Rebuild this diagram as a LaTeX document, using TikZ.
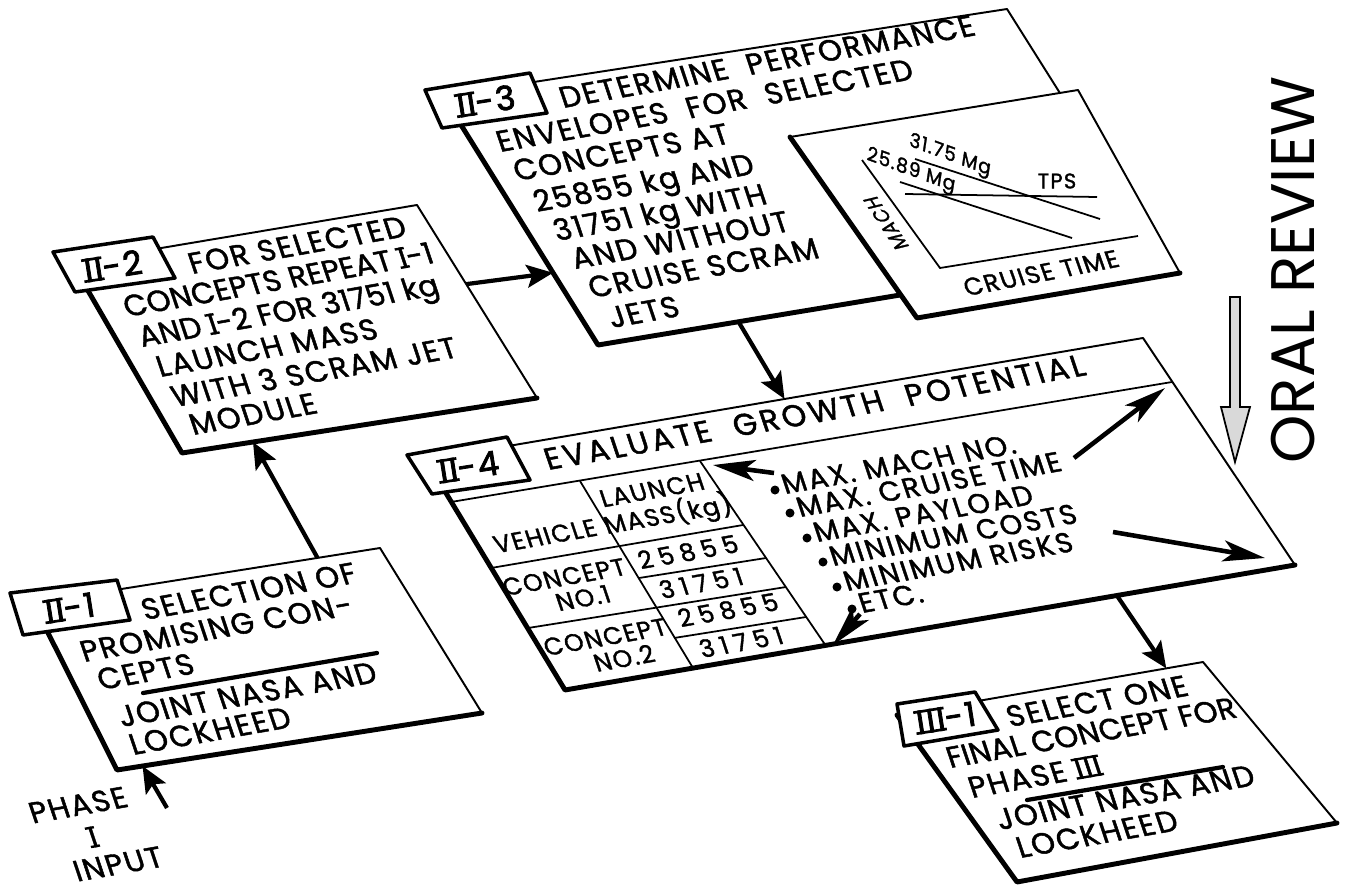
\documentclass[tikz,border=0pt]{standalone}
\usepackage{fontspec}
\usepackage{tikz}
\usetikzlibrary{arrows.meta, calc}
\newfontfamily\lettering[LetterSpace=6, FakeBold=1.5]{Poppins}
\newfontfamily\reviewfont{Poppins}
\newcommand{\romnum}[1]{\setbox0=\hbox{#1}%
  \rlap{\kern-0.05em\rule[-0.01em]{\dimexpr\wd0+0.06em\relax}{0.08em}}%
  \rlap{\kern-0.05em\rule[\dimexpr\ht0-0.07em\relax]{\dimexpr\wd0+0.06em\relax}{0.08em}}%
  \box0}
\newcommand{\wide}{\addfontfeature{LetterSpace=25}}
\newcommand{\snug}{\addfontfeature{LetterSpace=1}}

\begin{document}
\begin{tikzpicture}[
        x=0.2mm, y=-0.2mm,
        >={Stealth[length=15pt, width=13pt, inset=3pt]},
        box/.style={fill=white, draw, line width=1.1pt, line join=round},
        heavy/.style={line width=2.8pt, line cap=round, line join=round},
        tagbox/.style={fill=white, draw, line width=2pt, line join=round},
        flow/.style={->, line width=2.4pt},
        pointer/.style={-{Stealth[length=24pt, width=12pt, inset=6pt]}, line width=2.6pt},
        divider/.style={line width=2.4pt, line cap=round},
        rule/.style={line width=1pt},
        txt/.style={font=\lettering\fontsize{17}{19}\selectfont, anchor=base west, inner sep=0pt, rotate=10, xslant=-0.15},
        tag/.style={font=\lettering\addfontfeature{FakeBold=2.5}\fontsize{19}{20}\selectfont, inner sep=0pt, rotate=9},
        cell/.style={font=\lettering\fontsize{14}{15}\selectfont, inner sep=0pt, rotate=10, xslant=-0.15},
        item/.style={font=\lettering\addfontfeature{LetterSpace=8}\fontsize{16}{17}\selectfont, anchor=base west, inner sep=0pt, rotate=10, xslant=-0.15},
        plot/.style={font=\lettering\fontsize{11}{12}\selectfont, inner sep=0pt}
    ]
        \useasboundingbox (0,0) rectangle (1348,890);

        % II-1
        \coordinate (sel-nw) at (33,603);
        \coordinate (sel-ne) at (380,548);
        \coordinate (sel-se) at (482,713);
        \coordinate (sel-sw) at (117,770);
        \draw[box] (sel-nw) -- (sel-ne) -- (sel-se) -- (sel-sw) -- cycle;
        \draw[heavy] (sel-nw) -- (sel-sw) -- (sel-se);
        \draw[tagbox] (10,593) -- (117,580) -- (130,620) -- (23,635) -- cycle;
        \node[tag] (sel-tag) at (70,608) {\romnum{II}-1};
        \node[txt] (sel-l1) at (145,620) {SELECTION OF};
        \node[txt] (sel-l2) at (84,662)  {PROMISING CON-};
        \node[txt] (sel-l3) at (101,690) {CEPTS};
        \draw[divider] (143,693) -- (377,653);
        \node[txt] (sel-l4) at (122,727) {JOINT NASA AND};
        \node[txt] (sel-l5) at (133,755) {LOCKHEED};

        % II-2
        \coordinate (rep-nw) at (72,263);
        \coordinate (rep-ne) at (417,205);
        \coordinate (rep-se) at (537,398);
        \coordinate (rep-sw) at (182,453);
        \draw[box] (rep-nw) -- (rep-ne) -- (rep-se) -- (rep-sw) -- cycle;
        \draw[heavy] (rep-nw) -- (rep-sw) -- (rep-se);
        \draw[tagbox] (53,252) -- (153,237) -- (175,278) -- (75,292) -- cycle;
        \node[tag] (rep-tag) at (113,266) {\romnum{II}-2};
        \node[txt] (rep-l1) at (192,274) {FOR SELECTED};
        \node[txt] (rep-l2) at (127,317) {\snug CONCEPTS REPEAT \romnum{I}-1};
        \node[txt] (rep-l3) at (142,347) {\snug AND \romnum{I}-2 FOR 31751 kg};
        \node[txt] (rep-l4) at (160,377) {LAUNCH MASS};
        \node[txt] (rep-l5) at (175,407) {WITH 3 SCRAM JET};
        \node[txt] (rep-l6) at (193,435) {MODULE};

        % II-3
        \coordinate (env-nw) at (443,96);
        \coordinate (env-ne) at (1007,9);
        \coordinate (env-se) at (1160,252);
        \coordinate (env-sw) at (598,345);
        \draw[box] (env-nw) -- (env-ne) -- (env-se) -- (env-sw) -- cycle;
        \draw[heavy] (env-nw) -- (env-sw) -- (env-se);
        \draw[tagbox] (425,90) -- (530,73) -- (547,113) -- (442,128) -- cycle;
        \node[tag] (env-tag) at (486,101) {\romnum{II}-3};
        \node[txt] (env-l1) at (563,108) {DETERMINE\ \ PERFORMANCE};
        \node[txt] (env-l2) at (500,152) {ENVELOPES\ \ FOR\ \ SELECTED};
        \node[txt] (env-l3) at (517,181) {CONCEPTS AT};
        \node[txt] (env-l4) at (537,212) {25855 kg AND};
        \node[txt] (env-l5) at (557,241) {31751 kg WITH};
        \node[txt] (env-l6) at (575,269) {AND WITHOUT};
        \node[txt] (env-l7) at (592,298) {CRUISE SCRAM};
        \node[txt] (env-l8) at (612,328) {JETS};

        % performance plot
        \coordinate (plt-nw) at (790,137);
        \coordinate (plt-ne) at (1078,90);
        \coordinate (plt-se) at (1180,273);
        \coordinate (plt-sw) at (917,318);
        \draw[box] (plt-nw) -- (plt-ne) -- (plt-se) -- (plt-sw) -- cycle;
        \draw[heavy] (plt-nw) -- (plt-sw) -- (plt-se);
        \coordinate (ax-top) at (862,160);
        \coordinate (ax-org) at (940,268);
        \coordinate (ax-end) at (1138,236);
        \draw[rule] (ax-top) -- (ax-org) -- (ax-end);
        \draw[rule] (915,159) -- (1100,219);
        \draw[rule] (900,182) -- (1072,238);
        \draw[rule] (905,194) -- (1097,197);
        \node[plot, rotate=-20, xslant=-0.2] (m-high) at (950,156) {31.75 Mg};
        \node[plot, rotate=-20, xslant=-0.2] (m-low) at (911,171) {25.89 Mg};
        \node[plot, font=\lettering\fontsize{12}{13}\selectfont] (tps) at (1057,181) {TPS};
        \node[plot, rotate=123, xslant=0.35] (mach) at (886,223) {MACH};
        \node[plot, font=\lettering\fontsize{14}{15}\selectfont, rotate=11, xslant=-0.15] (cruise) at (1041,273) {CRUISE TIME};

        % II-4
        \coordinate (grw-nw) at (426,460);
        \coordinate (grw-ne) at (1143,338);
        \coordinate (grw-se) at (1295,565);
        \coordinate (grw-sw) at (565,690);
        \draw[box] (grw-nw) -- (grw-ne) -- (grw-se) -- (grw-sw) -- cycle;
        \draw[heavy] (grw-nw) -- (grw-sw) -- (grw-se);
        \coordinate (hdr-w) at (451,502);
        \coordinate (hdr-e) at (1172,382);
        \draw[rule] (hdr-w) -- (hdr-e);
        \draw[tagbox] (407,455) -- (507,437) -- (530,480) -- (432,494) -- cycle;
        \node[tag] (grw-tag) at (469,467) {\romnum{II}-4};
        \node[txt, font=\lettering\addfontfeature{LetterSpace=11}\fontsize{17.5}{19}\selectfont] (grw-head) at (548,470) {EVALUATE\ \ GROWTH\ \ POTENTIAL};

        \coordinate (d1-n) at (580,481);
        \coordinate (d1-s) at (693,668);
        \coordinate (d2-n) at (700,461);
        \coordinate (d2-s) at (826,646);
        \draw[rule] (d1-n) -- (d1-s);
        \draw[rule] (d2-n) -- (d2-s);
        \draw[rule] (491,568) -- (743,525);
        \draw[rule] (639,578) -- (766,558);
        \draw[rule] (528,628) -- (786,587);
        \draw[rule] (674,638) -- (806,617);
        \node[cell] (c-veh)  at (545,536) {VEHICLE};
        \node[cell] (c-lau)  at (652,490) {LAUNCH};
        \node[cell] (c-mass) at (668,515) {MASS(kg)};
        \node[cell] (c-c1)   at (564,577) {CONCEPT};
        \node[cell] (c-n1)   at (583,598) {NO.1};
        \node[cell] (c-c2)   at (605,637) {CONCEPT};
        \node[cell] (c-n2)   at (624,658) {NO.2};
        \node[cell] (c-m11)  at (688,552) {\wide 25855};
        \node[cell] (c-m12)  at (701,583) {\wide 31751};
        \node[cell] (c-m21)  at (728,610) {\wide 25855};
        \node[cell] (c-m22)  at (741,642) {\wide 31751};

        \fill (775,490) circle (4.5);
        \fill (790,513) circle (4.5);
        \fill (807,538) circle (4.5);
        \fill (823,562) circle (4.5);
        \fill (837,587) circle (4.5);
        \fill (852,609) circle (4.5);
        \node[item] (g1) at (785,494) {MAX. MACH NO.};
        \node[item] (g2) at (800,517) {MAX. CRUISE TIME};
        \node[item] (g3) at (817,542) {MAX. PAYLOAD};
        \node[item] (g4) at (833,566) {MINIMUM COSTS};
        \node[item] (g5) at (847,591) {MINIMUM RISKS};
        \node[item] (g6) at (862,613) {ETC.};

        \coordinate (p1-from) at (1074,458);
        \coordinate (p1-to)   at (1165,388);
        \coordinate (p2-from) at (1113,532);
        \coordinate (p2-to)   at (1265,558);
        \coordinate (p3-from) at (774,473);
        \coordinate (p3-to)   at (713,465);
        \coordinate (p4-from) at (860,614);
        \coordinate (p4-to)   at (833,645);
        \draw[pointer] (p1-from) -- (p1-to);
        \draw[pointer] (p2-from) -- (p2-to);
        \draw[pointer] (p3-from) -- (p3-to);
        \draw[pointer] (p4-from) -- (p4-to);

        % III-1
        \coordinate (fin-nw) at (897,715);
        \coordinate (fin-ne) at (1203,662);
        \coordinate (fin-se) at (1337,823);
        \coordinate (fin-sw) at (1017,882);
        \draw[box] (fin-nw) -- (fin-ne) -- (fin-se) -- (fin-sw) -- cycle;
        \draw[heavy] (fin-nw) -- (fin-sw) -- (fin-se);
        \draw[tagbox] (897,704) -- (975,692) -- (998,730) -- (904,746) -- cycle;
        \node[tag] (fin-tag) at (946,718) {\romnum{III}-1};
        \node[txt] (fin-l1) at (1010,727) {SELECT ONE};
        \node[txt] (fin-l2) at (950,768) {\snug FINAL CONCEPT FOR};
        \node[txt] (fin-l3) at (972,798) {PHASE \romnum{III}};
        \draw[divider] (1027,800) -- (1223,767);
        \node[txt] (fin-l4) at (1000,830) {JOINT NASA AND};
        \node[txt] (fin-l5) at (1020,858) {LOCKHEED};

        % phase I input
        \node[txt, anchor=center, font=\lettering\fontsize{17}{18}\selectfont] (ph-a) at (78,805) {PHASE};
        \node[txt, anchor=center, font=\lettering\fontsize{17}{18}\selectfont] (ph-b) at (93,837) {\romnum{I}};
        \node[txt, anchor=center, font=\lettering\fontsize{17}{18}\selectfont] (ph-c) at (118,864) {INPUT};
        \coordinate (in-from) at (167,808);

        % flow
        \coordinate (sel-in)  at ($(sel-sw)!0.07!(sel-se)$);
        \coordinate (sel-out) at ($(sel-nw)!0.82!(sel-ne)$);
        \coordinate (rep-in)  at ($(rep-sw)!0.2!(rep-se)$);
        \coordinate (rep-out) at ($(rep-ne)!0.41!(rep-se)$);
        \coordinate (env-in)  at ($(env-nw)!0.71!(env-sw)$);
        \coordinate (env-out) at ($(env-sw)!0.25!(env-se)$);
        \coordinate (grw-in)  at ($(grw-nw)!0.5!(grw-ne)$);
        \coordinate (grw-out) at ($(grw-sw)!0.756!(grw-se)$);
        \coordinate (fin-in)  at ($(fin-nw)!0.88!(fin-ne)$);
        \draw[flow] (in-from) -- (sel-in);
        \draw[flow] (sel-out) -- (rep-in);
        \draw[flow] (rep-out) -- (env-in);
        \draw[flow] (env-out) -- (grw-in);
        \draw[flow] (grw-out) -- (fin-in);

        % oral review
        \draw[line width=1pt, fill=black!15] (1230,297) -- (1240,297) -- (1240,407) -- (1250,407)
            -- (1235,462) -- (1221,407) -- (1230,407) -- cycle;
        \node[font=\reviewfont\fontsize{35}{36}\selectfont, rotate=90, inner sep=0pt] (oral) at (1293,270) {ORAL REVIEW};
    \end{tikzpicture}
\end{document}
